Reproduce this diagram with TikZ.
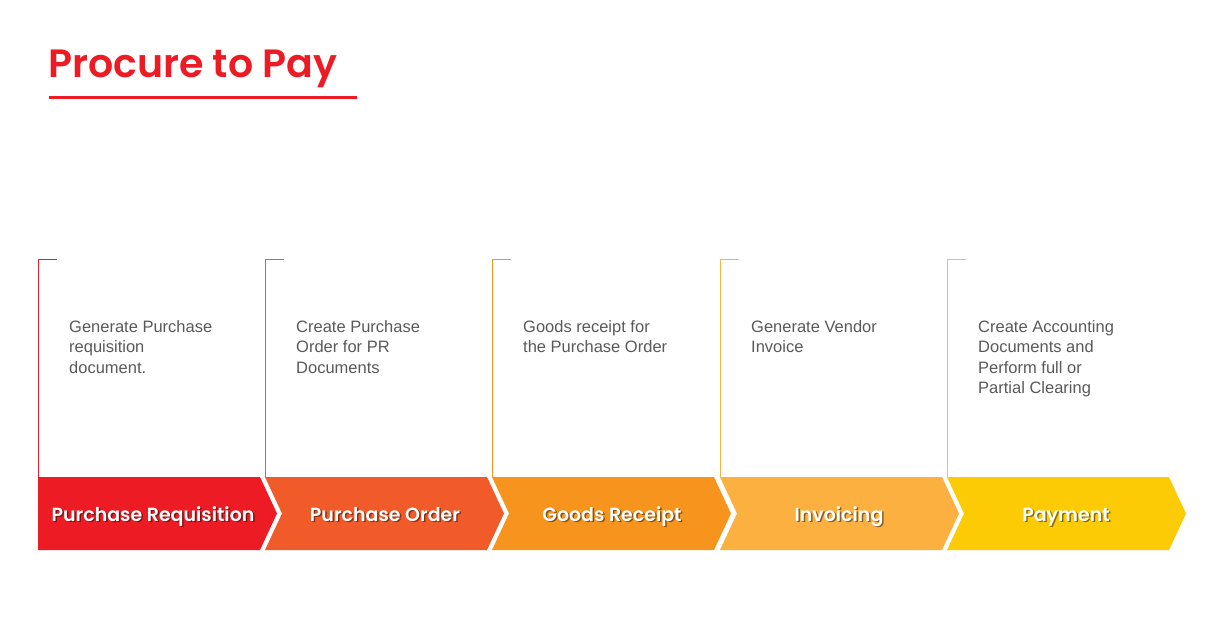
\documentclass[tikz,border=0pt]{standalone}
\usepackage{fontspec}
\setmainfont{Liberation Sans}
\newfontfamily\headfont{Poppins}[BoldFont={* SemiBold}]
\definecolor{cA}{HTML}{ED1C24}
\definecolor{cB}{HTML}{F15A29}
\definecolor{cC}{HTML}{F7941D}
\definecolor{cD}{HTML}{FBB040}
\definecolor{cE}{HTML}{FCCB05}
\definecolor{txtgray}{HTML}{595959}
\begin{document}
\begin{tikzpicture}[x=1pt,y=-1pt,
  desc/.style={anchor=north west,align=left,inner sep=0pt,text=txtgray,font=\fontsize{16.5}{20.5}\selectfont},
  lbl/.style={anchor=base,text=white,inner sep=0pt,font=\headfont\bfseries\fontsize{19}{22}\selectfont},
  lblshadow/.style={anchor=base,text=black,opacity=0.45,inner sep=0pt,font=\headfont\bfseries\fontsize{19}{22}\selectfont},
  bracket/.style={line width=1pt}]
\useasboundingbox (0,0) rectangle (1210,617);
% title
\node[anchor=base west,inner sep=0pt,text=cA,font=\headfont\bfseries\fontsize{39.5}{42}\selectfont] (title) at (48,78) {Procure to Pay};
\draw[cA,line width=3.2pt] (49,97.5) -- (357,97.5);
% chevrons
\foreach \s/\c/\n in {38/cA/1,265/cB/2,492/cC/3,720/cD/4,947/cE/5}{
  \ifnum\n=1
    \fill[\c] (\s,477) -- (\s+222,477) -- (\s+239,513.5) -- (\s+222,550) -- (\s,550) -- cycle;
  \else
    \fill[\c] (\s,477) -- (\s+222,477) -- (\s+239,513.5) -- (\s+222,550) -- (\s,550) -- (\s+17,513.5) -- cycle;
  \fi
  \draw[\c,bracket] (\s+19,259.5) -- (\s+0.5,259.5) -- (\s+0.5,477);
}
% labels
\foreach \x/\t/\n in {153/Purchase Requisition/1,385/Purchase Order/2,612/Goods Receipt/3,839/Invoicing/4,1066/Payment/5}{
  \node[lblshadow] at (\x+1.5,522.5) {\t};
  \node[lbl] (lbl\n) at (\x,521) {\t};
}
% descriptions
\node[desc] (d1) at (69,320) {Generate Purchase\\requisition\\document.};
\node[desc] (d2) at (296,320) {Create Purchase\\Order for PR\\Documents};
\node[desc] (d3) at (523,320) {Goods receipt for\\the Purchase Order};
\node[desc] (d4) at (751,320) {Generate Vendor\\Invoice};
\node[desc] (d5) at (978,320) {Create Accounting\\Documents and\\Perform full or\\Partial Clearing};
\end{tikzpicture}
\end{document}
